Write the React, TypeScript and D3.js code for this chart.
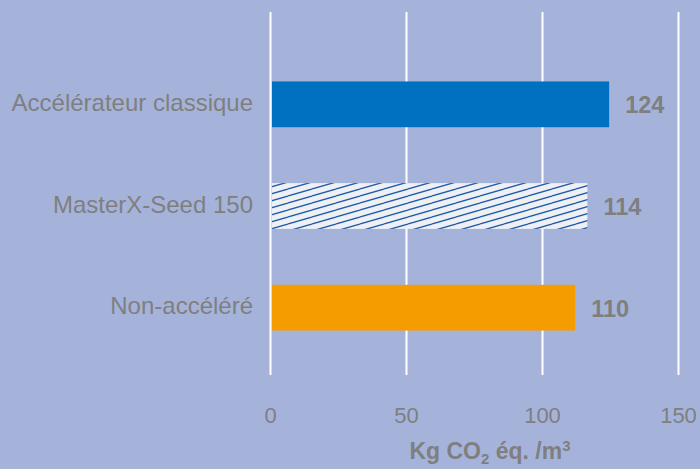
import React from "react";
import * as d3 from "d3";

const categories = ["Accélérateur classique", "MasterX-Seed 150", "Non-accéléré"];
const barValues = [124.5, 116.5, 112];
const valueLabels = ["124", "114", "110"];
const xTicks = [0, 50, 100, 150];
const axisTitle = "Kg CO";

const W = 700;
const H = 469;

export default function App() {
  const x = d3.scaleLinear().domain([0, 150]).range([270.5, 678.5]);
  const y = d3
    .scaleBand<string>()
    .domain(categories)
    .range([53.5, 358.5])
    .paddingInner(0.55)
    .paddingOuter(0.275);
  const fills = ["#0070c0", "url(#hatch)", "#f59c00"];
  const font = "Arial, 'Liberation Sans', sans-serif";
  const gray = "#7f7f7f";
  const hs = "#1d5aa6";
  return (
    <svg
      width={W}
      height={H}
      style={{ position: "absolute", left: 0, top: 0, display: "block" }}
    >
      <defs>
        <pattern id="hatch" patternUnits="userSpaceOnUse" width={24} height={7}>
          <rect width={24} height={7} fill="#eef0f6" />
          <line x1={0} y1={7} x2={24} y2={0} stroke={hs} strokeWidth={1.3} />
          <line x1={-24} y1={7} x2={0} y2={0} stroke={hs} strokeWidth={1.3} />
          <line x1={24} y1={7} x2={48} y2={0} stroke={hs} strokeWidth={1.3} />
          <line x1={0} y1={14} x2={24} y2={7} stroke={hs} strokeWidth={1.3} />
          <line x1={0} y1={0} x2={24} y2={-7} stroke={hs} strokeWidth={1.3} />
        </pattern>
      </defs>
      <rect width={W} height={H} fill="#a5b3db" />
      {xTicks.map((t) => (
        <line
          key={t}
          x1={x(t)}
          x2={x(t)}
          y1={12}
          y2={375}
          stroke="#ffffff"
          strokeWidth={2}
        />
      ))}
      {categories.map((c, i) => (
        <rect
          key={c}
          x={x(0) + 1.5}
          y={y(c)}
          width={x(barValues[i]) - x(0) - 1.5}
          height={y.bandwidth()}
          fill={fills[i]}
        />
      ))}
      {categories.map((c, i) => (
        <text
          key={"c" + c}
          x={253}
          y={(y(c) ?? 0) + y.bandwidth() / 2 + 6.5}
          textAnchor="end"
          fontFamily={font}
          fontSize={24}
          fill={gray}
        >
          {c}
        </text>
      ))}
      {categories.map((c, i) => (
        <text
          key={"v" + c}
          x={x(barValues[i]) + 16}
          y={(y(c) ?? 0) + y.bandwidth() / 2 + 9}
          fontFamily={font}
          fontSize={23.5}
          fontWeight="bold"
          fill={gray}
        >
          {valueLabels[i]}
        </text>
      ))}
      {xTicks.map((t) => (
        <text
          key={"t" + t}
          x={x(t)}
          y={423}
          textAnchor="middle"
          fontFamily={font}
          fontSize={22}
          fill={gray}
        >
          {t}
        </text>
      ))}
      <text
        x={490}
        y={459}
        textAnchor="middle"
        fontFamily={font}
        fontSize={23}
        fontWeight="bold"
        fill={gray}
      >
        {axisTitle}
        <tspan fontSize={15} dy={5}>2</tspan>
        <tspan dy={-5}> éq. /m</tspan>
        <tspan fontSize={15} dy={-8}>3</tspan>
      </text>
    </svg>
  );
}
